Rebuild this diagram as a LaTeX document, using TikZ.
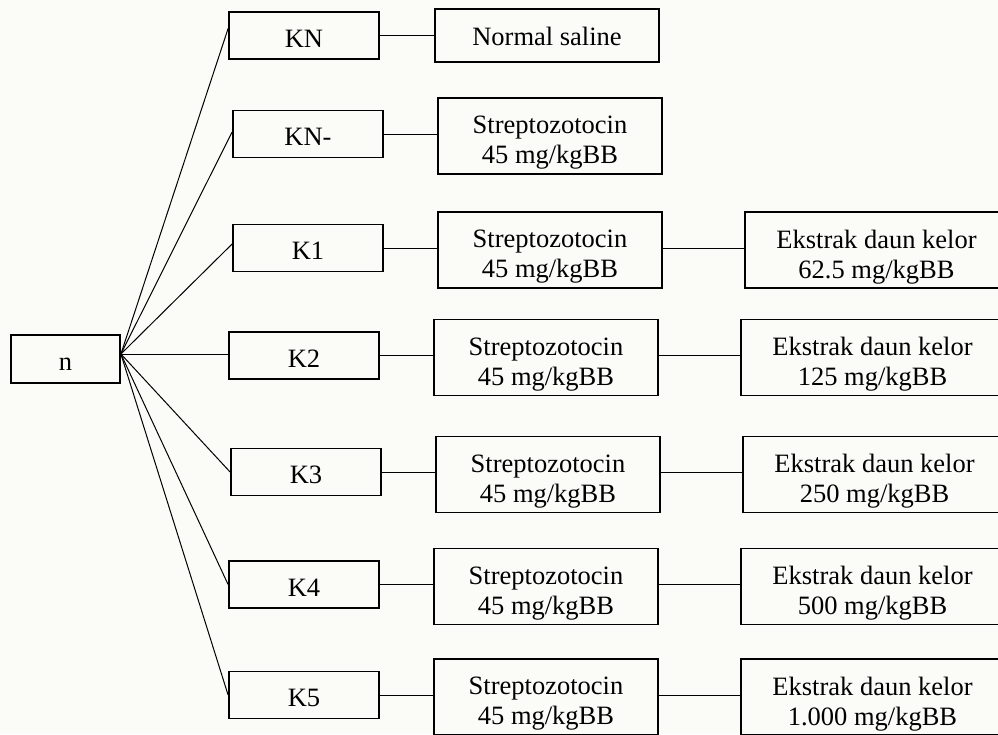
\documentclass[tikz,border=0pt]{standalone}
\usepackage{fontspec}
\setmainfont{Liberation Serif}
\definecolor{bgc}{RGB}{251,251,247}
\begin{document}
\begin{tikzpicture}[x=1pt,y=-1pt,
  box/.style={draw=black, line width=1.8pt, rectangle, inner sep=0pt},
  kbox/.style={box, minimum width=150pt, minimum height=47pt},
  sbox/.style={box, minimum width=224pt, minimum height=76pt},
  ebox/.style={box, minimum width=263pt, minimum height=76pt},
  lbl/.style={font=\fontsize{26.5}{30}\selectfont, inner sep=0pt, align=center},
  wire/.style={line width=1pt}]
\fill[bgc] (0,0) rectangle (998,734);
\useasboundingbox (0,0) rectangle (998,734);
\clip (0,0) rectangle (998,734);

% root
\node[box, minimum width=109pt, minimum height=48pt,
      label={[lbl,yshift=-5.5pt]center:n}] (n) at (65.5,359) {};
\coordinate (nj) at ([yshift=5pt]n.east);

% K column
\node[kbox, label={[lbl,yshift=-3pt]center:KN}]  (kn)  at (304,35.5) {};
\node[kbox, label={[lbl,yshift=-3pt]center:KN-}] (knm) at (308,134) {};
\node[kbox, label={[lbl,yshift=-3pt]center:K1}]  (k1)  at (308,248) {};
\node[kbox, label={[lbl,yshift=-3pt]center:K2}]  (k2)  at (304,355.5) {};
\node[kbox, label={[lbl,yshift=-3pt]center:K3}]  (k3)  at (306,472) {};
\node[kbox, label={[lbl,yshift=-3pt]center:K4}]  (k4)  at (304,584.5) {};
\node[kbox, label={[lbl,yshift=-3pt]center:K5}]  (k5)  at (304,695) {};

% second column
\node[box, minimum width=224pt, minimum height=53pt,
      label={[lbl,yshift=-1pt]center:Normal saline}] (ns) at (547,35.5) {};
\node[sbox, label={[lbl,yshift=-7pt]center:Streptozotocin\\45 mg/kgBB}] (s0) at (550,136) {};
\node[sbox, label={[lbl,yshift=-7pt]center:Streptozotocin\\45 mg/kgBB}] (s1) at (550,250) {};
\node[sbox, label={[lbl,yshift=-7pt]center:Streptozotocin\\45 mg/kgBB}] (s2) at (546,357.5) {};
\node[sbox, label={[lbl,yshift=-7pt]center:Streptozotocin\\45 mg/kgBB}] (s3) at (548,474.5) {};
\node[sbox, label={[lbl,yshift=-7pt]center:Streptozotocin\\45 mg/kgBB}] (s4) at (546,586.5) {};
\node[sbox, label={[lbl,yshift=-7pt]center:Streptozotocin\\45 mg/kgBB}] (s5) at (546,697) {};

% third column
\node[ebox, label={[lbl,yshift=-7pt]center:Ekstrak daun kelor\\62.5 mg/kgBB}]  (e1) at (876.5,250) {};
\node[ebox, label={[lbl,yshift=-7pt]center:Ekstrak daun kelor\\125 mg/kgBB}]   (e2) at (872.5,357.5) {};
\node[ebox, label={[lbl,yshift=-7pt]center:Ekstrak daun kelor\\250 mg/kgBB}]   (e3) at (874.5,474.5) {};
\node[ebox, label={[lbl,yshift=-7pt]center:Ekstrak daun kelor\\500 mg/kgBB}]   (e4) at (872.5,586.5) {};
\node[ebox, label={[lbl,yshift=-7pt]center:Ekstrak daun kelor\\1.000 mg/kgBB}] (e5) at (872.5,697) {};

% fan from n
\draw[wire] (nj) -- ([yshift=7pt]kn.west);
\draw[wire] (nj) -- ([yshift=2pt]knm.west);
\draw[wire] (nj) -- ([yshift=4pt]k1.west);
\draw[wire] (nj) -- (nj -| k2.west);
\draw[wire] (nj) -- (k3.west);
\draw[wire] (nj) -- (k4.west);
\draw[wire] (nj) -- (k5.west);

% row connectors
\draw[wire] (kn.east) -- (kn.east -| ns.west);
\draw[wire] (knm.east) -- (knm.east -| s0.west);
\draw[wire] (k1.east) -- (k1.east -| s1.west);
\draw[wire] (k2.east) -- (k2.east -| s2.west);
\draw[wire] (k3.east) -- (k3.east -| s3.west);
\draw[wire] (k4.east) -- (k4.east -| s4.west);
\draw[wire] (k5.east) -- (k5.east -| s5.west);
\draw[wire] (s1.east |- k1.east) -- (e1.west |- k1.east);
\draw[wire] (s2.east |- k2.east) -- (e2.west |- k2.east);
\draw[wire] (s3.east |- k3.east) -- (e3.west |- k3.east);
\draw[wire] (s4.east |- k4.east) -- (e4.west |- k4.east);
\draw[wire] (s5.east |- k5.east) -- (e5.west |- k5.east);
\end{tikzpicture}
\end{document}
